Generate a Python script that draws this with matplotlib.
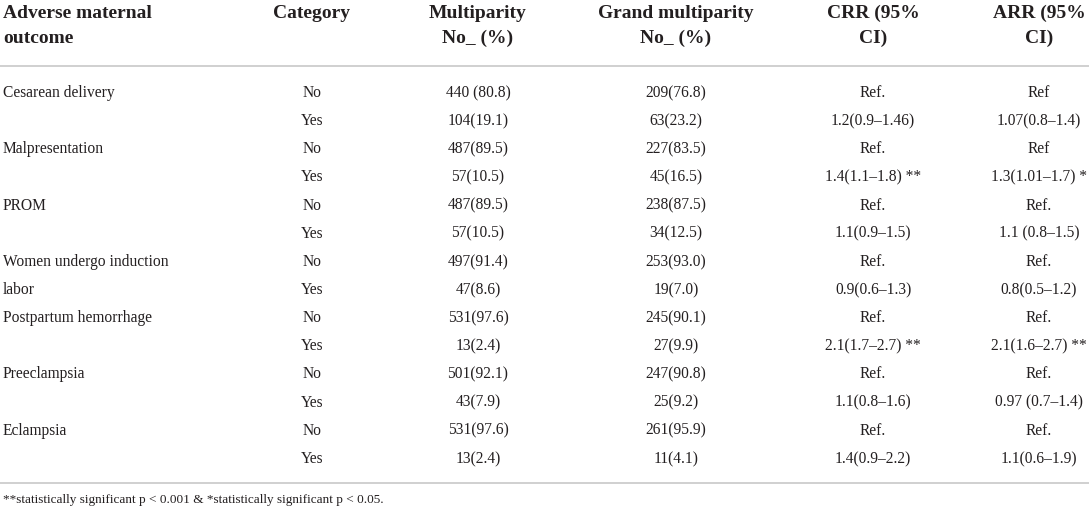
import matplotlib
matplotlib.use("Agg")
import matplotlib.pyplot as plt

plt.rcParams['font.family'] = ['Liberation Serif', 'DejaVu Serif']
plt.rcParams['mathtext.fontset'] = 'stix'

headers = [["Adverse maternal", "outcome"], ["Category", ""], ["Multiparity", "No_ (%)"],
           ["Grand multiparity", "No_ (%)"], ["CRR (95%", "CI)"], ["ARR (95%", "CI)"]]
outcomes = ["Cesarean delivery", "", "Malpresentation", "", "PROM", "",
            "Women undergo induction", "labor", "Postpartum hemorrhage", "",
            "Preeclampsia", "", "Eclampsia", ""]
categories = ["No", "Yes"] * 7
multiparity = ["440 (80.8)", "104(19.1)", "487(89.5)", "57(10.5)", "487(89.5)", "57(10.5)",
               "497(91.4)", "47(8.6)", "531(97.6)", "13(2.4)", "501(92.1)", "43(7.9)",
               "531(97.6)", "13(2.4)"]
grand_multiparity = ["209(76.8)", "63(23.2)", "227(83.5)", "45(16.5)", "238(87.5)", "34(12.5)",
                     "253(93.0)", "19(7.0)", "245(90.1)", "27(9.9)", "247(90.8)", "25(9.2)",
                     "261(95.9)", "11(4.1)"]
crr = ["Ref.", "1.2(0.9\u20131.46)", "Ref.", "1.4(1.1\u20131.8) **", "Ref.", "1.1(0.9\u20131.5)",
       "Ref.", "0.9(0.6\u20131.3)", "Ref.", "2.1(1.7\u20132.7) **", "Ref.", "1.1(0.8\u20131.6)",
       "Ref.", "1.4(0.9\u20132.2)"]
arr = ["Ref", "1.07(0.8\u20131.4)", "Ref", "1.3(1.01\u20131.7) *", "Ref.", "1.1 (0.8\u20131.5)",
       "Ref.", "0.8(0.5\u20131.2)", "Ref.", "2.1(1.6\u20132.7) **", "Ref.", "0.97 (0.7\u20131.4)",
       "Ref.", "1.1(0.6\u20131.9)"]
footnote = "**statistically significant p < 0.001 & *statistically significant p < 0.05."

W, H = 1089, 512
fig = plt.figure(figsize=(W / 100, H / 100), dpi=100)
ax = fig.add_axes([0, 0, 1, 1])
ax.set_xlim(0, W)
ax.set_ylim(H, 0)
ax.axis('off')

txt = '#231f20'
line_c = '#c8c8c8'
fs = 11.2
hfs = 14

col_x = [3, 312, 478, 676, 873, 1039]
col_ha = ['left', 'center', 'center', 'center', 'center', 'center']

# header (baselines)
for (l1, l2), x, ha in zip(headers, col_x, col_ha):
    ax.text(x, 18, l1, ha=ha, va='baseline', fontsize=hfs, fontweight='bold', color=txt)
    if l2:
        ax.text(x, 43, l2, ha=ha, va='baseline', fontsize=hfs, fontweight='bold', color=txt)

ax.plot([0, W], [66, 66], color=line_c, lw=1.2)

y0, dy = 97, 28.15
columns = [outcomes, categories, multiparity, grand_multiparity, crr, arr]
for i in range(len(categories)):
    y = y0 + i * dy
    for vals, x, ha in zip(columns, col_x, col_ha):
        if vals[i]:
            ax.text(x, y, vals[i], ha=ha, va='baseline', fontsize=fs, color=txt)

ax.plot([0, W], [483, 483], color=line_c, lw=1.2)
ax.text(3, 503, footnote, ha='left', va='baseline', fontsize=9.5, color=txt)

fig.savefig("out.png", dpi=100, facecolor='white')
